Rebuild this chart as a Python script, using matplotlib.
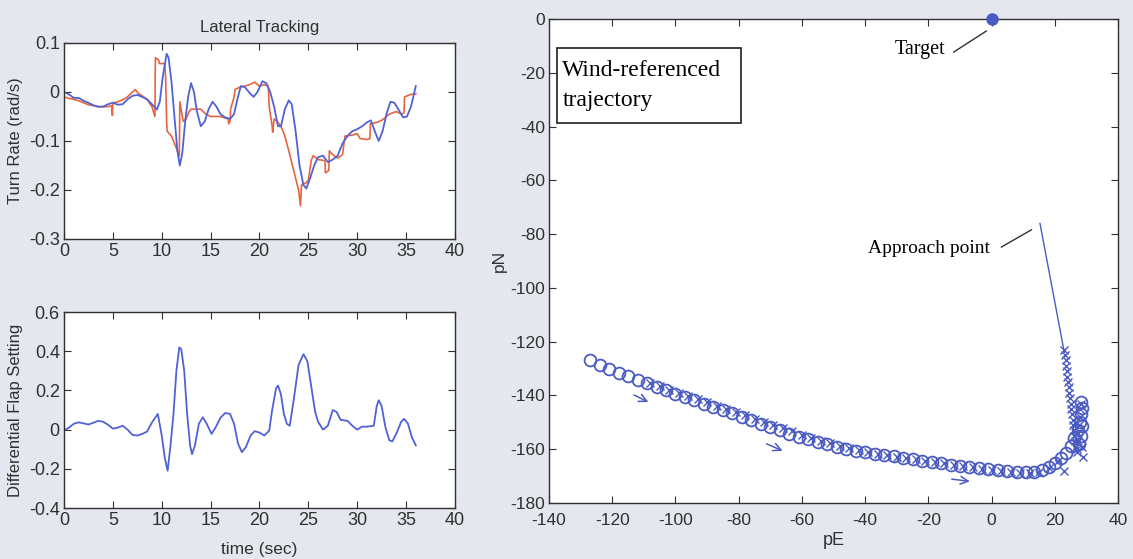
import numpy as np
import matplotlib.pyplot as plt
from matplotlib.patches import Rectangle

plt.rcParams['font.family'] = ['Liberation Sans', 'DejaVu Sans']
plt.rcParams['axes.unicode_minus'] = False

# turn rate tracking (actual = blue, commanded = red)
t_blue = [0, 0.5, 1, 1.5, 2, 2.5, 3, 3.5, 4, 4.5, 5, 5.5, 6, 6.5, 7, 7.5, 8, 8.5, 9, 9.5,
          9.8, 10.1, 10.5, 10.7, 11, 11.3, 11.6, 11.85, 12.1, 12.4, 12.7, 13, 13.3, 13.6, 14,
          14.4, 14.8, 15.2, 15.6, 16, 16.5, 17, 17.4, 17.8, 18.1, 18.5, 19, 19.4, 19.8, 20.3,
          20.7, 21.1, 21.5, 21.9, 22.2, 22.6, 23, 23.3, 23.7, 24.1, 24.5, 24.8, 25.2, 25.6, 26,
          26.5, 27, 27.5, 28, 28.5, 29, 29.5, 30, 30.5, 31, 31.4, 31.8, 32.2, 32.6, 33, 33.4,
          33.8, 34.2, 34.7, 35.1, 35.5, 36]
r_blue = [0.0, -0.005, -0.012, -0.012, -0.018, -0.022, -0.027, -0.03, -0.03, -0.025, -0.022,
          -0.026, -0.025, -0.015, -0.008, -0.006, -0.01, -0.015, -0.025, -0.036, -0.02, 0.03,
          0.078, 0.07, 0.02, -0.05, -0.12, -0.15, -0.125, -0.06, -0.01, 0.018, 0.0, -0.04,
          -0.07, -0.06, -0.035, -0.02, -0.03, -0.045, -0.052, -0.055, -0.045, -0.01, 0.012,
          0.01, -0.002, -0.01, 0.0, 0.022, 0.018, 0.0, -0.03, -0.07, -0.07, -0.035, -0.017,
          -0.025, -0.08, -0.15, -0.19, -0.197, -0.175, -0.15, -0.133, -0.13, -0.143, -0.138,
          -0.13, -0.105, -0.09, -0.08, -0.076, -0.07, -0.062, -0.058, -0.08, -0.1, -0.08,
          -0.045, -0.02, -0.022, -0.035, -0.052, -0.05, -0.03, 0.012]

t_red = [0, 0.5, 1, 1.5, 2, 2.5, 3, 3.5, 4, 4.5, 4.9, 4.95, 5.0, 5.5, 6, 6.5, 7, 7.3, 7.6, 8,
         8.5, 9, 9.3, 9.35, 9.7, 9.75, 10.3, 10.4, 10.5, 10.55, 11, 11.4, 11.8, 11.85, 12.2,
         12.5, 12.8, 13, 14, 14.5, 15, 16, 16.8, 16.85, 17.0, 17.05, 17.4, 17.5, 18, 18.5, 19,
         19.5, 20, 20.5, 20.9, 21.0, 21.3, 21.35, 21.5, 21.8, 22.2, 22.6, 23, 23.5, 24, 24.2,
         24.3, 24.8, 25, 25.3, 25.5, 26, 26.7, 26.75, 27.1, 27.15, 27.5, 28, 28.5, 28.75,
         29.5, 30, 30.3, 31, 31.3, 31.35, 32, 32.5, 33, 33.3, 34, 34.6, 34.8, 34.85, 35.5, 36]
r_red = [-0.01, -0.013, -0.015, -0.018, -0.022, -0.026, -0.028, -0.03, -0.03, -0.03, -0.028,
         -0.048, -0.022, -0.02, -0.016, -0.01, 0.0, 0.005, -0.003, -0.008, -0.015, -0.03,
         -0.05, 0.07, 0.065, 0.058, 0.058, 0.03, -0.06, -0.08, -0.09, -0.11, -0.13, -0.02,
         -0.06, -0.055, -0.04, -0.035, -0.035, -0.045, -0.05, -0.05, -0.055, -0.065, -0.06,
         -0.035, -0.01, 0.005, 0.01, 0.012, 0.015, 0.02, 0.012, 0.015, 0.012, -0.03, -0.07,
         -0.082, -0.055, -0.06, -0.07, -0.09, -0.12, -0.16, -0.2, -0.232, -0.19, -0.185,
         -0.18, -0.14, -0.13, -0.138, -0.14, -0.165, -0.16, -0.12, -0.128, -0.135, -0.128,
         -0.09, -0.088, -0.085, -0.095, -0.097, -0.095, -0.065, -0.062, -0.058, -0.05, -0.045,
         -0.04, -0.045, -0.042, -0.01, -0.005, -0.004]

# differential flap setting
t_flap = [0, 0.5, 1, 1.5, 2, 2.5, 3, 3.5, 4, 4.5, 5, 5.5, 6, 6.5, 7, 7.5, 8, 8.5, 9, 9.6, 10,
          10.3, 10.6, 10.9, 11.2, 11.5, 11.8, 12.0, 12.3, 12.6, 12.9, 13.1, 13.4, 13.8, 14.2,
          14.6, 15.1, 15.5, 16, 16.5, 17, 17.4, 17.8, 18.2, 18.6, 19.1, 19.5, 20, 20.5, 21,
          21.3, 21.7, 21.9, 22.2, 22.5, 22.8, 23.1, 23.5, 24, 24.5, 24.9, 25.3, 25.7, 26, 26.5,
          27, 27.5, 27.9, 28.3, 29, 29.5, 30, 30.5, 31, 31.7, 32, 32.2, 32.5, 32.9, 33.3, 33.6,
          34.1, 34.5, 34.8, 35.2, 35.6, 36]
flap = [-0.005, 0.01, 0.03, 0.037, 0.032, 0.026, 0.035, 0.045, 0.04, 0.025, 0.005, 0.01, 0.02,
        0.0, -0.027, -0.03, -0.022, -0.01, 0.037, 0.08, -0.03, -0.14, -0.21, -0.08, 0.08, 0.3,
        0.42, 0.41, 0.3, 0.08, -0.08, -0.125, -0.08, 0.03, 0.063, 0.03, -0.022, 0.01, 0.06,
        0.085, 0.08, 0.03, -0.07, -0.115, -0.09, -0.03, -0.008, -0.015, -0.03, -0.005, 0.1,
        0.21, 0.225, 0.18, 0.08, 0.03, 0.02, 0.15, 0.33, 0.385, 0.35, 0.22, 0.09, 0.04, 0.0,
        0.02, 0.1, 0.09, 0.05, 0.045, 0.02, 0.0, 0.015, 0.015, 0.02, 0.12, 0.15, 0.12, 0.01,
        -0.055, -0.06, -0.01, 0.04, 0.055, 0.03, -0.04, -0.08]

# wind-referenced trajectory
pe_circ = [-127, -124, -121, -118, -115, -112, -109, -106, -103, -100, -97, -94, -91, -88, -85,
           -82, -79, -76, -73, -70, -67, -64, -61, -58, -55, -52, -49, -46, -43, -40, -37, -34,
           -31, -28, -25, -22, -19, -16, -13, -10, -7, -4, -1, 2, 5, 8, 11, 13.5, 16, 18, 20,
           22, 23.5, 25, 26.2, 27.2, 27.9, 28.3, 28.5, 28.4, 28.6, 28.2, 27.6]
pn_circ = [-127, -128.6, -130, -131.5, -132.8, -134.2, -135.5, -136.7, -138, -139.3, -140.6,
           -141.8, -143, -144.2, -145.4, -146.7, -148, -149.3, -150.6, -151.8, -153, -154.2,
           -155.3, -156.3, -157.3, -158.2, -159, -159.8, -160.5, -161.1, -161.7, -162.2, -162.7,
           -163.2, -163.7, -164.2, -164.7, -165.2, -165.7, -166.2, -166.6, -167, -167.4, -167.8,
           -168.1, -168.4, -168.5, -168.3, -167.6, -166.6, -165.2, -163.3, -161.3, -158.8, -156,
           -153, -150, -147, -144.5, -142.5, -151.5, -155, -158]

pe_x = [23.0, 23.2, 23.4, 23.6, 23.8, 24.0, 24.2, 24.4, 24.6, 24.8, 25.0, 25.2, 25.4, 25.6,
        25.8, 26.0, 26.2, 26.5, 26.8, 27.1, 27.4, 27.2, 27.6, 27.9, 28.1, 28.3, 27.0, 28.5,
        29, 23, 21, 18, 15, 12, 9, 6, 3, 0, -3, -6, -9, -12, -15, -18,
        -21, -24, -27, -30, -33, -36, -39, -42, -45, -48, -51, -54, -57, -60, -63, -66, -69,
        -72, -75, -78, -81, -84, -87, -90, -93, -96, -99, -102, -105, -108]
pn_x = [-123, -125, -127, -129, -131, -133, -135, -137, -139, -141, -143, -145, -147, -149,
        -151, -153, -155, -157, -159, -160, -157, -154, -151, -148, -145, -143, -161, -159,
        -163, -168, -164.5, -167, -168.3, -168.8, -168.8, -168.5,
        -168.2, -167.8, -167.3, -166.8, -166.3, -165.8, -165.3, -164.8, -164.3, -163.8, -163.3,
        -162.8, -162.2, -161.6, -161, -160.3, -159.5, -158.7, -157.8, -156.8, -155.7, -154.6,
        -153.4, -152.2, -151, -149.8, -148.6, -147.4, -146.2, -145, -143.8, -142.6, -141.4,
        -140.2, -139, -137.8, -136.6, -135.4]

pe_approach = [15.3, 23.0]
pn_approach = [-76, -124]
target = (0, 0)

bg = '#e4e8ee'
c_blue = '#4f62d6'
c_red = '#e8643e'
c_traj = '#4b5bc4'
dark = '#303030'

fig = plt.figure(figsize=(11.33, 5.59), dpi=100, facecolor=bg)


def style(ax, fs):
    ax.tick_params(direction='in', top=True, right=True, length=5, labelsize=fs,
                   colors=dark, pad=3)
    for s in ax.spines.values():
        s.set_color(dark)
        s.set_linewidth(1.0)


ax1 = fig.add_axes([0.0565, 0.5725, 0.345, 0.3506])
ax1.plot(t_red, r_red, color=c_red, lw=1.2)
ax1.plot(t_blue, r_blue, color=c_blue, lw=1.3)
ax1.set_xlim(0, 40)
ax1.set_ylim(-0.3, 0.1)
ax1.set_xticks(range(0, 41, 5))
ax1.set_yticks([-0.3, -0.2, -0.1, 0, 0.1])
ax1.set_yticklabels(['-0.3', '-0.2', '-0.1', '0', '0.1'])
ax1.set_title('Lateral Tracking', fontsize=12, color=dark, pad=8)
ax1.set_ylabel('Turn Rate (rad/s)', fontsize=12, color=dark, labelpad=4)
style(ax1, 13)

ax2 = fig.add_axes([0.0565, 0.0912, 0.345, 0.3506])
ax2.plot(t_flap, flap, color=c_blue, lw=1.3)
ax2.set_xlim(0, 40)
ax2.set_ylim(-0.4, 0.6)
ax2.set_xticks(range(0, 41, 5))
ax2.set_yticks([-0.4, -0.2, 0, 0.2, 0.4, 0.6])
ax2.set_yticklabels(['-0.4', '-0.2', '0', '0.2', '0.4', '0.6'])
ax2.set_xlabel('time (sec)', fontsize=12.5, color=dark, labelpad=9)
ax2.set_ylabel('Differential Flap Setting', fontsize=12, color=dark, labelpad=4)
style(ax2, 13)

ax3 = fig.add_axes([0.4846, 0.1002, 0.5022, 0.8658])
ax3.plot(pe_approach, pn_approach, color=c_traj, lw=1.0)
ax3.plot(pe_x, pn_x, 'x', color=c_traj, ms=6, mew=1.0)
ax3.plot(pe_circ, pn_circ, 'o', color=c_traj, mfc='none', ms=8.5, mew=1.3)
ax3.plot(*target, 'o', color=c_traj, ms=8, clip_on=False, zorder=5)
ax3.set_xlim(-140, 40)
ax3.set_ylim(-180, 0)
ax3.set_xticks(range(-140, 41, 20))
ax3.set_yticks(range(-180, 1, 20))
ax3.set_xlabel('pE', fontsize=13, color=dark, labelpad=3)
ax3.set_ylabel('pN', fontsize=12.5, color=dark, labelpad=2)
style(ax3, 12.5)
ax3.tick_params(axis='x', pad=7)

serif = ['Liberation Serif', 'DejaVu Serif']
ax3.add_patch(Rectangle((-137.4, -38.5), 58.2, 27.8, fc='white', ec=dark, lw=1.3,
                        zorder=4))
ax3.text(-135.8, -24.6, 'Wind-referenced\ntrajectory', family=serif, fontsize=17,
         va='center', ha='left', linespacing=1.55, zorder=5)
ax3.text(-22.8, -11.4, 'Target', family=serif, fontsize=14.5, ha='center', va='center')
ax3.plot([-12, -1.7], [-12.3, -4.5], color=dark, lw=1.0)
ax3.text(-19.8, -85.5, 'Approach point', family=serif, fontsize=14, ha='center',
         va='center')
ax3.plot([3.1, 12.6], [-84.8, -78.4], color=dark, lw=1.0)

arrows = [((-113.9, -139.4), (-107.8, -142.9)),
          ((-72, -157.6), (-65.3, -161)),
          ((-13.5, -171), (-6, -172.1))]
for a, b in arrows:
    ax3.annotate('', xy=b, xytext=a,
                 arrowprops=dict(arrowstyle='->', color=c_traj, lw=1.1,
                                 mutation_scale=14))

fig.savefig('out.png', dpi=100, facecolor=bg)
